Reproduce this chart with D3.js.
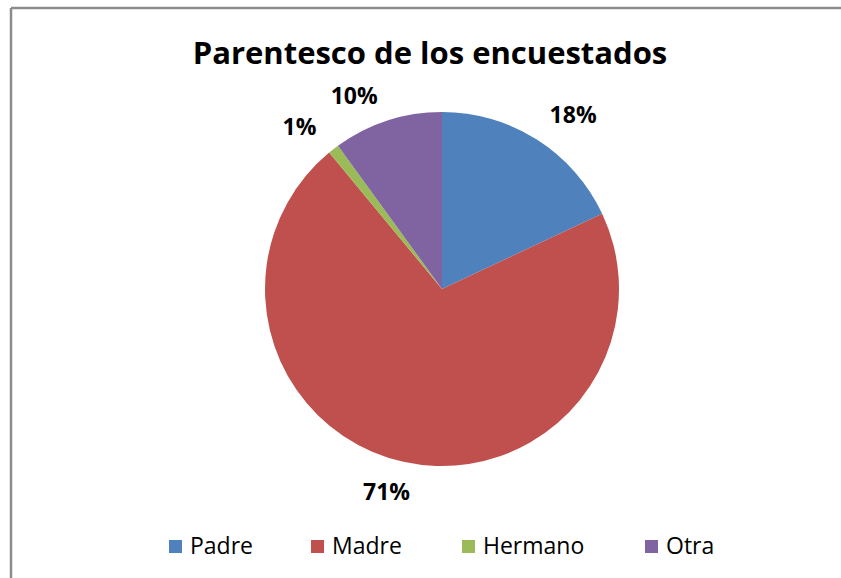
<!DOCTYPE html>
<html>
<head>
<meta charset="utf-8">
<script src="https://cdn.jsdelivr.net/npm/d3@7"></script>
<style>
  body { margin: 0; background: #fff; }
  svg { display: block; font-family: "Open Sans", sans-serif; }
</style>
</head>
<body>
<svg id="pie" width="841" height="578"></svg>
<script>
    // data
    const categories = ["Padre", "Madre", "Hermano", "Otra"];
    const values = [18, 71, 1, 10];
    const labels = ["18%", "71%", "1%", "10%"];
    const colors = ["#4F81BD", "#C0504D", "#9BBB59", "#8064A2"];

    let svg = d3.select("svg#pie");
    let width = +svg.attr("width");
    let height = +svg.attr("height");

    // frame (only top and left edges are visible in the crop)
    svg.append("line").attr("x1", 11).attr("y1", 8).attr("x2", width).attr("y2", 8)
      .attr("stroke", "#8c8c8c").attr("stroke-width", 2.5);
    svg.append("line").attr("x1", 11).attr("y1", 8).attr("x2", 11).attr("y2", height)
      .attr("stroke", "#8c8c8c").attr("stroke-width", 2.5);

    // title
    svg.append("text")
      .attr("x", 430).attr("y", 64)
      .attr("text-anchor", "middle")
      .attr("font-size", 31).attr("font-weight", "bold")
      .attr("fill", "#000")
      .text("Parentesco de los encuestados");

    let cx = 442, cy = 289, radius = 177;
    let colorScale = d3.scaleOrdinal().domain(categories).range(colors);

    let data = categories.map((c, i) => ({ cat: c, value: values[i], label: labels[i] }));

    let pie = d3.pie().value(d => d.value).sort(null);
    let arc = d3.arc().innerRadius(0).outerRadius(radius);
    let labelArc = d3.arc().innerRadius(213).outerRadius(213);

    // small nudges so labels sit where Excel's best-fit put them
    let labelNudge = { Padre: [17, 6], Madre: [-9, -5], Hermano: [-12, 6], Otra: [-22, 10] };

    let g = svg.append("g").attr("transform", "translate(" + cx + "," + cy + ")");

    let arcs = pie(data);
    g.selectAll("path.slice")
      .data(arcs)
      .enter().append("path")
      .attr("class", "slice")
      .attr("d", arc)
      .attr("fill", d => colorScale(d.data.cat));

    g.selectAll("text.pct")
      .data(arcs)
      .enter().append("text")
      .attr("class", "pct")
      .attr("x", d => labelArc.centroid(d)[0] + labelNudge[d.data.cat][0])
      .attr("y", d => labelArc.centroid(d)[1] + labelNudge[d.data.cat][1])
      .attr("dy", "0.35em")
      .attr("text-anchor", "middle")
      .attr("font-size", 23).attr("font-weight", "bold")
      .attr("fill", "#000")
      .text(d => d.data.label);

    // legend -- items are spaced by their text width, like Excel does
    let legendX = { Padre: 169, Madre: 311, Hermano: 462, Otra: 645 };
    let legend = svg.append("g");
    categories.forEach((c) => {
      let x = legendX[c];
      legend.append("rect")
        .attr("x", x).attr("y", 540)
        .attr("width", 13).attr("height", 13)
        .attr("fill", colorScale(c));
      legend.append("text")
        .attr("x", x + 21).attr("y", 554)
        .attr("font-size", 23)
        .attr("fill", "#000")
        .text(c);
    });
</script>
</body>
</html>
